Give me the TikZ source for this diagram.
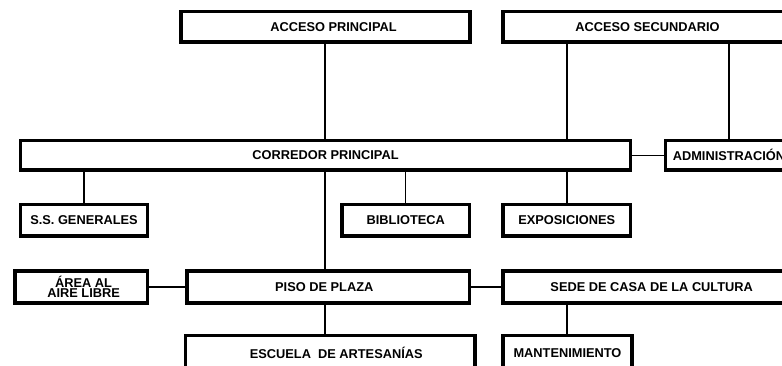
\documentclass[tikz,border=0pt]{standalone}
\usepackage{fontspec}
\setmainfont{Liberation Sans}
\begin{document}
\begin{tikzpicture}[x=1pt,y=-1pt,
  box/.style={draw=black,line width=3.8pt,fill=white,rectangle,inner sep=0pt,
    font=\fontsize{12.8}{14}\selectfont\bfseries,align=center},
  link/.style={draw=black,line width=1.1pt}]
\useasboundingbox (0,0) rectangle (782,365);
\clip (0,0) rectangle (782,365);
% top row
\node[box,minimum width=289pt,minimum height=30.5pt] (ap) at (325.5,26.75) {\hspace{16pt}ACCESO PRINCIPAL};
\node[box,minimum width=289pt,minimum height=30.5pt] (as) at (647.5,26.75) {ACCESO SECUNDARIO};
% corridor row
\node[box,minimum width=610pt,minimum height=29.5pt] (cp) at (325.5,155.25) {CORREDOR PRINCIPAL};
\node[box,minimum width=127pt,minimum height=29.5pt] (ad) at (729,155.25) {ADMINISTRACIÓN};
% third row
\node[box,minimum width=127pt,minimum height=31.5pt] (sg) at (84,220.25) {S.S. GENERALES};
\node[box,minimum width=127.5pt,minimum height=31.5pt] (bi) at (405.75,220.25) {BIBLIOTECA};
\node[box,minimum width=127.5pt,minimum height=31.5pt] (ex) at (566.75,220.25) {EXPOSICIONES};
% plaza row
\node[box,minimum width=132.8pt,minimum height=31.4pt,
  font=\fontsize{12.8}{10.5}\selectfont\bfseries] (ar) at (81.1,287) {\hspace{5pt}ÁREA AL\\\hspace{5pt}AIRE LIBRE};
\node[box,minimum width=282.5pt,minimum height=31.4pt] (pp) at (328.25,287) {PISO DE PLAZA\hspace{8pt}};
\node[box,minimum width=297.4pt,minimum height=31.4pt] (se) at (651.7,287) {SEDE DE CASA DE LA CULTURA};
% bottom row
\node[box,minimum width=289.5pt,minimum height=35.3pt] (es) at (330.25,353.2) {\hspace{12pt}ESCUELA\ \ DE ARTESANÍAS};
\node[box,minimum width=129pt,minimum height=35.3pt] (ma) at (567.5,353.2) {MANTENIMIENTO};
% connectors
\coordinate (xc) at (325,0);
\coordinate (xe) at (567,0);
\draw[link] (ap.south -| xc) -- (cp.north -| xc);
\draw[link] (as.south -| xe) -- (cp.north -| xe);
\draw[link] (as.south -| ad.north) -- (ad.north);
\draw[link] (cp.east) -- (ad.west);
\draw[link] (cp.south -| sg.north) -- (sg.north);
\draw[link] (cp.south -| bi.north) -- (bi.north);
\draw[link] (cp.south -| xe) -- (ex.north -| xe);
\draw[link] (cp.south -| xc) -- (pp.north -| xc);
\draw[link] (ar.east) -- (pp.west);
\draw[link] (pp.east) -- (se.west);
\draw[link] (pp.south -| xc) -- (es.north -| xc);
\draw[link] (se.south -| xe) -- (ma.north -| xe);
\end{tikzpicture}
\end{document}
